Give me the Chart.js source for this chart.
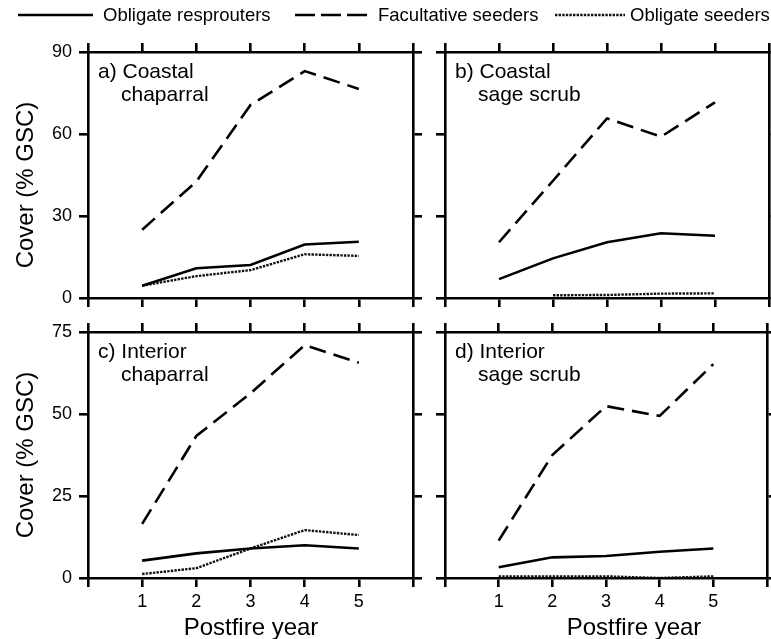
<!DOCTYPE html>
<html>
<head>
<meta charset="utf-8">
<script src="https://cdn.jsdelivr.net/npm/chart.js@4.4.0/dist/chart.umd.min.js"></script>
<style>
  html, body { margin: 0; padding: 0; background: #fff; }
  #lienzo { position: relative; width: 771px; height: 639px; }
  #lienzo canvas { position: absolute; left: 0; top: 0; }
</style>
</head>
<body>
<div id="lienzo">
  <canvas id="panel-a" width="771" height="639"></canvas>
  <canvas id="panel-b" width="771" height="639"></canvas>
  <canvas id="panel-c" width="771" height="639"></canvas>
  <canvas id="panel-d" width="771" height="639"></canvas>
</div>
<script>
// años tras el fuego (eje X)
const YEARS = [1, 2, 3, 4, 5];
const SERIES = ['Obligate resprouters', 'Facultative seeders', 'Obligate seeders'];

// a) Coastal chaparral
const A_RESPROUTERS = [4.5, 10.9, 12.1, 19.6, 20.6];
const A_FACULTATIVE = [25, 42.6, 70.6, 83, 76.5];
const A_SEEDERS = [4.5, 8, 10.2, 16, 15.4];

// b) Coastal sage scrub
const B_RESPROUTERS = [6.9, 14.5, 20.4, 23.7, 22.8];
const B_FACULTATIVE = [20.4, 42.9, 65.7, 59, 71.6];
const B_SEEDERS = [null, 1.0, 1.1, 1.6, 1.7];

// c) Interior chaparral
const C_RESPROUTERS = [5.3, 7.5, 9, 10, 9];
const C_FACULTATIVE = [16.5, 43.3, 56.3, 71, 65.6];
const C_SEEDERS = [1.2, 3, 9, 14.6, 13.1];

// d) Interior sage scrub
const D_RESPROUTERS = [3.3, 6.3, 6.7, 8, 9];
const D_FACULTATIVE = [11.4, 37.5, 52.4, 49.4, 65.2];
const D_SEEDERS = [0.5, 0.5, 0.5, 0, 0.5];

const X_MIN = 0, X_MAX = 6;
const TOP_ROW_MAX = 90, TOP_ROW_STEP = 30;
const BOTTOM_ROW_MAX = 75, BOTTOM_ROW_STEP = 25;

const W = 771, H = 639;
const FUENTE = '"Liberation Sans", Arial, Helvetica, sans-serif';
const TICK_LEN = 9;
const GROSOR = 2.6;

// estilo de línea de cada grupo
const ESTILOS = [
  { borderWidth: 2.6, borderDash: [], borderColor: '#000' },
  { borderWidth: 2.6, borderDash: [17, 8], borderColor: '#000' },
  { borderWidth: 2.4, borderDash: [2.4, 1.2], borderColor: '#111' },
];

const PANELES = [
  { id: 'panel-a', area: { left: 88, top: 52, right: 413, bottom: 298 },
    yMax: TOP_ROW_MAX, yStep: TOP_ROW_STEP, etiqueta: ['a) Coastal', 'chaparral'],
    yTexto: true, xTexto: false, tituloY: 185, series: [A_RESPROUTERS, A_FACULTATIVE, A_SEEDERS] },
  { id: 'panel-b', area: { left: 445, top: 52, right: 769, bottom: 298 },
    yMax: TOP_ROW_MAX, yStep: TOP_ROW_STEP, etiqueta: ['b) Coastal', 'sage scrub'],
    yTexto: false, xTexto: false, series: [B_RESPROUTERS, B_FACULTATIVE, B_SEEDERS] },
  { id: 'panel-c', area: { left: 88, top: 332, right: 413, bottom: 578 },
    yMax: BOTTOM_ROW_MAX, yStep: BOTTOM_ROW_STEP, etiqueta: ['c) Interior', 'chaparral'],
    yTexto: true, xTexto: true, tituloY: 455, tituloX: 251, series: [C_RESPROUTERS, C_FACULTATIVE, C_SEEDERS] },
  { id: 'panel-d', area: { left: 445, top: 332, right: 769, bottom: 578 },
    yMax: BOTTOM_ROW_MAX, yStep: BOTTOM_ROW_STEP, etiqueta: ['d) Interior', 'sage scrub'],
    yTexto: false, xTexto: true, tituloX: 634, series: [D_RESPROUTERS, D_FACULTATIVE, D_SEEDERS] },
];

function eje(pos, panel, extra) {
  const a = panel.area;
  const horizontal = pos === 'top' || pos === 'bottom';
  return Object.assign({
    type: 'linear',
    position: pos,
    min: horizontal ? X_MIN : 0,
    max: horizontal ? X_MAX : panel.yMax,
    border: { display: true, color: '#000', width: GROSOR },
    grid: { drawOnChartArea: false, drawTicks: true, tickLength: TICK_LEN, color: '#000', lineWidth: GROSOR },
    ticks: { display: false, stepSize: horizontal ? 1 : panel.yStep, autoSkip: false },
    afterFit(scale) {
      if (pos === 'left') scale.width = a.left;
      if (pos === 'right') scale.width = W - a.right;
      if (pos === 'top') scale.height = a.top;
      if (pos === 'bottom') scale.height = H - a.bottom;
    },
  }, extra || {});
}

const pluginTextos = {
  id: 'pluginTextos',
  afterDraw(chart, args, opts) {
    const { ctx } = chart;
    const p = opts.panel;
    const a = p.area;
    ctx.save();
    ctx.fillStyle = '#000';
    ctx.textAlign = 'left';
    ctx.textBaseline = 'alphabetic';
    ctx.font = '21px ' + FUENTE;
    ctx.fillText(p.etiqueta[0], a.left + 10, a.top + 26);
    ctx.fillText(p.etiqueta[1], a.left + 33, a.top + 49);

    ctx.font = '24px ' + FUENTE;
    if (p.tituloY) {
      ctx.save();
      ctx.translate(26, p.tituloY);
      ctx.rotate(-Math.PI / 2);
      ctx.textAlign = 'center';
      ctx.textBaseline = 'middle';
      ctx.fillText('Cover (% GSC)', 0, 0);
      ctx.restore();
    }
    if (p.tituloX) {
      ctx.textAlign = 'center';
      ctx.fillText('Postfire year', p.tituloX, 635);
    }

    if (opts.leyenda) {
      const y = 15;
      const muestras = [[18, 93, 103], [295, 368, 378], [555, 625, 630]];
      ctx.font = '18.5px ' + FUENTE;
      ctx.textBaseline = 'middle';
      ctx.textAlign = 'left';
      SERIES.forEach((nombre, i) => {
        const [x0, x1, xt] = muestras[i];
        const e = ESTILOS[i];
        ctx.strokeStyle = e.borderColor;
        ctx.lineWidth = e.borderWidth;
        ctx.setLineDash(i === 1 ? [20, 6] : e.borderDash);
        ctx.beginPath();
        ctx.moveTo(x0, y);
        ctx.lineTo(x1, y);
        ctx.stroke();
        ctx.fillText(nombre, xt, y + 1);
      });
      ctx.setLineDash([]);
    }
    ctx.restore();
  },
};

PANELES.forEach((panel, idx) => {
  const datasets = panel.series.map((valores, i) => Object.assign({
    label: SERIES[i],
    data: YEARS.map((x, k) => ({ x, y: valores[k] })),
    pointRadius: 0,
    tension: 0,
    fill: false,
    spanGaps: false,
  }, ESTILOS[i]));

  new Chart(document.getElementById(panel.id), {
    type: 'line',
    data: { datasets },
    options: {
      responsive: false,
      animation: false,
      events: [],
      layout: { padding: 0, autoPadding: false },
      scales: {
        x: eje('bottom', panel, {
          ticks: {
            display: panel.xTexto, stepSize: 1, autoSkip: false, padding: 4, maxRotation: 0,
            color: '#000', font: { size: 18, family: FUENTE },
            callback: (v) => (v >= 1 && v <= 5 ? String(v) : ''),
          },
        }),
        x2: eje('top', panel),
        y: eje('left', panel, {
          ticks: {
            display: panel.yTexto, stepSize: panel.yStep, autoSkip: false, padding: 7,
            color: '#000', font: { size: 18, family: FUENTE },
          },
        }),
        y2: eje('right', panel),
      },
      plugins: {
        legend: { display: false },
        tooltip: { enabled: false },
        pluginTextos: { panel, leyenda: idx === 0 },
      },
    },
    plugins: [pluginTextos],
  });
});
</script>
</body>
</html>
